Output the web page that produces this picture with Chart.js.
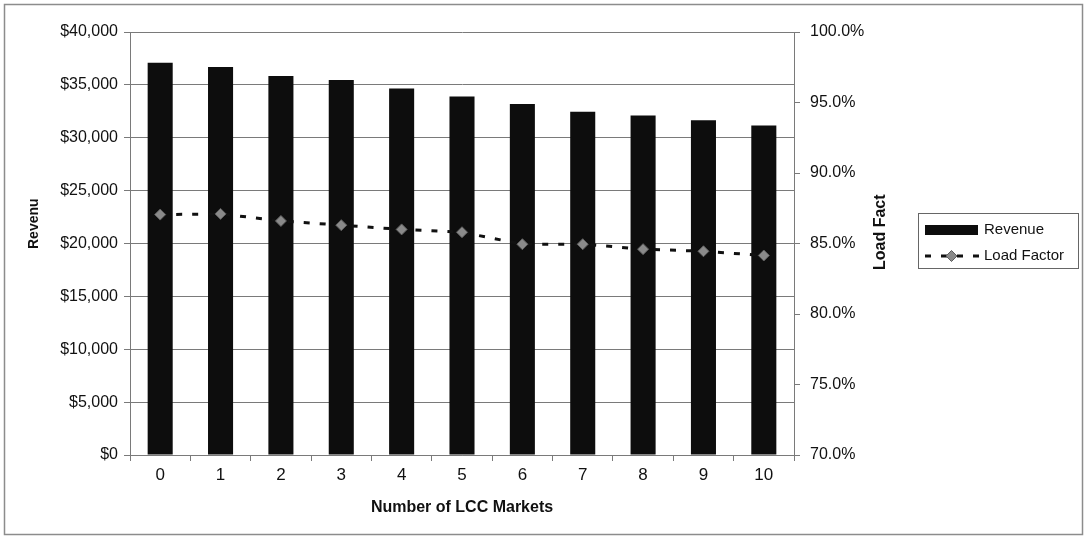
<!DOCTYPE html>
<html>
<head>
<meta charset="utf-8">
<script src="https://cdn.jsdelivr.net/npm/chart.js@4/dist/chart.umd.min.js"></script>
<style>
  html, body { margin: 0; padding: 0; background: #ffffff; }
  canvas { display: block; }
</style>
</head>
<body>
<canvas id="chart" width="1086" height="538"></canvas>
<script>
// Revenue and load factor by number of LCC markets
const markets = ['0', '1', '2', '3', '4', '5', '6', '7', '8', '9', '10'];
const revenue = [37100, 36700, 35850, 35450, 34650, 33900, 33200, 32450, 32100, 31650, 31150];
const loadFactor = [87.05, 87.1, 86.6, 86.3, 86.0, 85.8, 84.95, 84.95, 84.6, 84.45, 84.15];
const revenueTicks = [0, 40000, 5000];   // min, max, step
const loadFactorTicks = [70, 100, 5];    // min, max, step

const FONT = '"Liberation Sans", Arial, sans-serif';
const GRID = '#7a7a7a';
const INK = '#111111';

// Frame, axis titles and legend drawn around the plot
const decorations = {
  id: 'decorations',
  beforeDraw(chart) {
    const ctx = chart.ctx;
    ctx.save();
    ctx.fillStyle = '#ffffff';
    ctx.fillRect(0, 0, chart.width, chart.height);
    ctx.strokeStyle = '#8c8c8c';
    ctx.lineWidth = 1.5;
    ctx.strokeRect(4.5, 4.5, 1078, 530);
    ctx.restore();
  },
  afterDraw(chart) {
    const ctx = chart.ctx;
    const area = chart.chartArea;
    const bars = chart.data.datasets.find(d => d.type === 'bar');
    const line = chart.data.datasets.find(d => d.type === 'line');
    ctx.save();
    ctx.fillStyle = INK;

    // x axis title
    ctx.font = 'bold 16px ' + FONT;
    ctx.textAlign = 'center';
    ctx.textBaseline = 'middle';
    ctx.fillText('Number of LCC Markets', (area.left + area.right) / 2, 508);

    // left axis title
    ctx.save();
    ctx.translate(34, 249);
    ctx.rotate(-Math.PI / 2);
    ctx.font = 'bold 14px ' + FONT;
    ctx.textAlign = 'left';
    ctx.fillText('Revenu', 0, 0);
    ctx.restore();

    // right axis title
    ctx.save();
    ctx.translate(881, 270);
    ctx.rotate(-Math.PI / 2);
    ctx.font = 'bold 16px ' + FONT;
    ctx.textAlign = 'left';
    ctx.fillText('Load Fact', 0, 0);
    ctx.restore();

    // legend
    ctx.strokeStyle = '#666666';
    ctx.lineWidth = 1;
    ctx.strokeRect(918.5, 213.5, 160, 55);

    ctx.fillStyle = bars.backgroundColor;
    ctx.fillRect(925, 225, 53, 10);

    ctx.strokeStyle = line.borderColor;
    ctx.lineWidth = 3;
    ctx.setLineDash([6, 10]);
    ctx.beginPath();
    ctx.moveTo(925, 256);
    ctx.lineTo(979, 256);
    ctx.stroke();
    ctx.setLineDash([]);

    const cx = 951.5, cy = 256, r = 5.5;
    ctx.beginPath();
    ctx.moveTo(cx, cy - r);
    ctx.lineTo(cx + r, cy);
    ctx.lineTo(cx, cy + r);
    ctx.lineTo(cx - r, cy);
    ctx.closePath();
    ctx.fillStyle = line.pointBackgroundColor;
    ctx.fill();
    ctx.strokeStyle = line.pointBorderColor;
    ctx.lineWidth = 1;
    ctx.stroke();

    ctx.fillStyle = INK;
    ctx.font = '15px ' + FONT;
    ctx.textAlign = 'left';
    ctx.fillText(bars.label, 984, 230);
    ctx.fillText(line.label, 984, 256);
    ctx.restore();
  }
};

new Chart(document.getElementById('chart'), {
  data: {
    labels: markets,
    datasets: [
      {
        type: 'line',
        label: 'Load Factor',
        data: loadFactor,
        yAxisID: 'yLoad',
        borderColor: '#111111',
        borderWidth: 3,
        borderDash: [6, 10],
        tension: 0,
        fill: false,
        pointStyle: 'rectRot',
        pointRadius: 5.5,
        pointBackgroundColor: '#8a8a8a',
        pointBorderColor: '#5e5e5e',
        pointBorderWidth: 1,
        order: 0
      },
      {
        type: 'bar',
        label: 'Revenue',
        data: revenue,
        yAxisID: 'yRev',
        backgroundColor: '#0d0d0d',
        borderWidth: 0,
        categoryPercentage: 1,
        barPercentage: 0.415,
        order: 1
      }
    ]
  },
  options: {
    responsive: false,
    animation: false,
    layout: { padding: { top: 32, left: 0, right: 0, bottom: 0 } },
    plugins: {
      legend: { display: false },
      tooltip: { enabled: false }
    },
    scales: {
      x: {
        offset: true,
        grid: {
          offset: true,
          drawOnChartArea: false,
          drawTicks: true,
          tickLength: 6,
          color: GRID
        },
        border: { display: true, color: GRID, width: 1 },
        ticks: {
          color: INK,
          font: { family: FONT, size: 17 },
          padding: 4,
          maxRotation: 0
        },
        afterFit(scale) { scale.height = 83; }
      },
      yRev: {
        position: 'left',
        min: revenueTicks[0],
        max: revenueTicks[1],
        ticks: {
          stepSize: revenueTicks[2],
          color: INK,
          font: { family: FONT, size: 16 },
          padding: 6,
          callback: (v) => '$' + v.toLocaleString('en-US')
        },
        grid: { color: GRID, tickLength: 6, drawTicks: true },
        border: { display: true, color: GRID, width: 1 },
        afterFit(scale) { scale.width = 130; }
      },
      yLoad: {
        position: 'right',
        min: loadFactorTicks[0],
        max: loadFactorTicks[1],
        ticks: {
          stepSize: loadFactorTicks[2],
          color: INK,
          font: { family: FONT, size: 16 },
          padding: 10,
          callback: (v) => v.toFixed(1) + '%'
        },
        grid: { drawOnChartArea: false, color: GRID, tickLength: 6, drawTicks: true },
        border: { display: true, color: GRID, width: 1 },
        afterFit(scale) { scale.width = 292; }
      }
    }
  },
  plugins: [decorations]
});
</script>
</body>
</html>
